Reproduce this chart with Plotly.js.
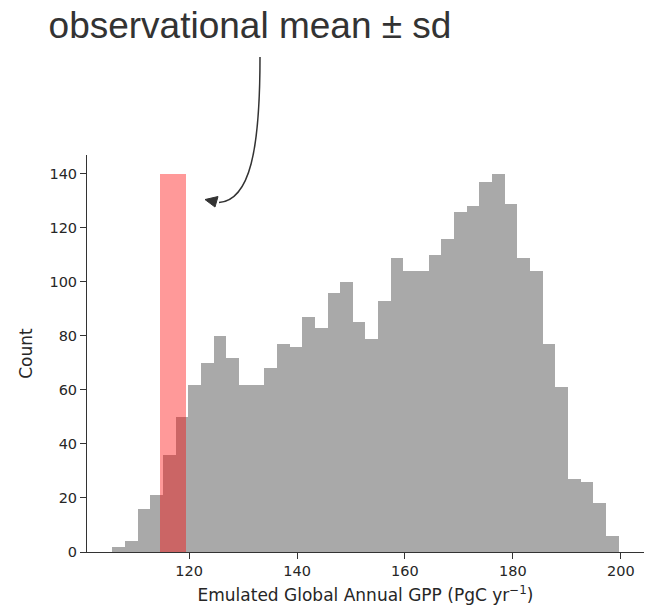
<!DOCTYPE html>
<html>
<head>
<meta charset="utf-8">
<script src="https://cdn.plot.ly/plotly-3.0.1.min.js"></script>
<style>html,body{margin:0;padding:0;background:#fff;}#chart{width:650px;height:607px;}</style>
</head>
<body>
<div id="chart"></div>
<script>
// Histogram of emulated GPP: 40 equal bins
const binStart = 105.77;
const binEnd = 199.6;
const counts = [2, 4, 16, 21, 36, 50, 62, 70, 80, 72,
                62, 62, 68, 77, 76, 87, 83, 96, 100, 85,
                79, 93, 109, 104, 104, 110, 116, 126, 128, 137,
                140, 129, 109, 104, 77, 61, 27, 26, 18, 6];
// Observational estimate
const obsMean = 117.0;
const obsSd = 2.47;
const obsHeight = 140;

const yTicks = [0, 20, 40, 60, 80, 100, 120, 140];
const xTicks = [120, 140, 160, 180, 200];

const nb = counts.length;
const bw = (binEnd - binStart) / nb;
const centers = counts.map((_, i) => binStart + bw * (i + 0.5));

// plot area in pixels (for annotation geometry)
const L = 87, R = 644, T = 155, B = 551.7;
const px = x => (x - L) / (R - L);
const py = y => (B - y) / (B - T);

const traces = [
  {type: 'bar', x: centers, y: counts, width: counts.map(() => bw),
   marker: {color: '#a9a9a9', line: {width: 0}}, hoverinfo: 'x+y'},
  {type: 'bar', x: [obsMean], y: [obsHeight], width: [2 * obsSd],
   marker: {color: 'rgba(255,0,0,0.4)', line: {width: 0}}}
];

const curve = `M ${px(260)},${py(57)} C ${px(260)},${py(150)} ${px(250)},${py(200)} ${px(219)},${py(202.5)}`;
const head = `M ${px(205)},${py(199.5)} L ${px(218)},${py(196.5)} L ${px(215)},${py(207)} Z`;

const tickFont = {family: 'DejaVu Sans, sans-serif', size: 14.5, color: '#262626'};
const labFont = {family: 'DejaVu Sans, sans-serif', size: 17, color: '#262626'};

const layout = {
  width: 650, height: 607,
  margin: {l: L, r: 650 - R, t: T, b: 607 - B},
  paper_bgcolor: '#fff', plot_bgcolor: '#fff',
  showlegend: false,
  barmode: 'overlay', bargap: 0,
  title: {text: 'observational mean ± sd', x: 250 / 650, xanchor: 'center',
          xref: 'container', yref: 'container', y: 1 - 25 / 607, yanchor: 'middle',
          font: {family: 'Liberation Sans, Arial, sans-serif', size: 37, color: '#333'}},
  xaxis: {range: [101.08, 204.3], tickvals: xTicks, ticks: 'outside', ticklen: 6,
          tickcolor: '#333', showline: true, linecolor: '#333', linewidth: 1,
          showgrid: false, zeroline: false, tickfont: tickFont,
          title: {text: 'Emulated Global Annual GPP (PgC yr<sup>−1</sup>)', font: labFont, standoff: 10}},
  yaxis: {range: [0, 147], tickvals: yTicks, ticks: 'outside', ticklen: 6,
          tickcolor: '#333', showline: true, linecolor: '#333', linewidth: 1,
          showgrid: false, zeroline: false, tickfont: tickFont,
          title: {text: 'Count', font: labFont, standoff: 12}},
  shapes: [
    {type: 'path', xref: 'paper', yref: 'paper', path: curve,
     line: {color: '#333', width: 1.5}, fillcolor: 'rgba(0,0,0,0)', layer: 'above'},
    {type: 'path', xref: 'paper', yref: 'paper', path: head,
     line: {color: '#333', width: 1}, fillcolor: '#333', layer: 'above'}
  ]
};

Plotly.newPlot('chart', traces, layout, {displayModeBar: false, staticPlot: true});
</script>
</body>
</html>
